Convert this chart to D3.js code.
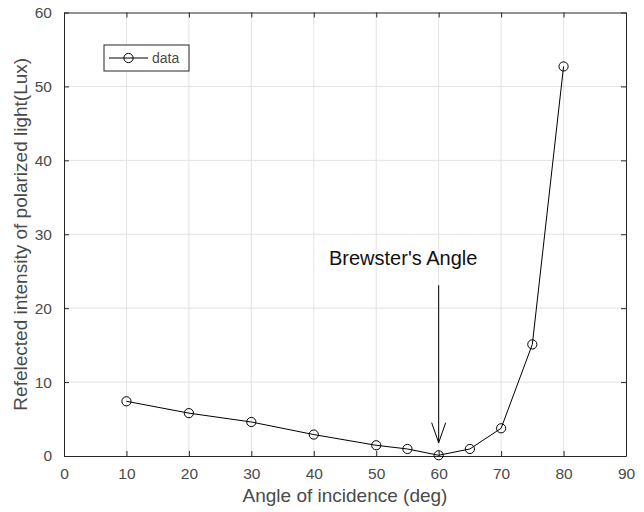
<!DOCTYPE html>
<html>
<head>
<meta charset="utf-8">
<script src="https://cdn.jsdelivr.net/npm/d3@7"></script>
<style>
  body { margin: 0; background: #fff; }
  svg { display: block; font-family: "Liberation Sans", Arial, sans-serif; }
</style>
</head>
<body>
<div id="chart"></div>
<script>
// measured data
var angles = [10, 20, 30, 40, 50, 55, 60, 65, 70, 75, 80]
var intensity = [7.4, 5.8, 4.6, 2.9, 1.45, 0.95, 0.1, 0.95, 3.75, 15.1, 52.7]
var xTicks = [0, 10, 20, 30, 40, 50, 60, 70, 80, 90]
var yTicks = [0, 10, 20, 30, 40, 50, 60]
var arrowFrom = [60, 23.1]
var arrowTo = [60, 1.8]

var width = 644, height = 512
var margin = { left: 64, right: 18, top: 12.5, bottom: 56 }

var svg = d3.select("#chart").append("svg")
    .attr("width", width)
    .attr("height", height)

var x = d3.scaleLinear().domain([0, 90]).range([margin.left, width - margin.right])
var y = d3.scaleLinear().domain([0, 60]).range([height - margin.bottom, margin.top])

var axisColor = "#262626"
var textColor = "#4a4a4a"

// grid
svg.append("g").selectAll("line").data(xTicks.slice(1, -1)).enter().append("line")
    .attr("x1", d => x(d)).attr("x2", d => x(d))
    .attr("y1", y(0)).attr("y2", y(60))
    .attr("stroke", "#e3e3e3").attr("stroke-width", 1)
svg.append("g").selectAll("line").data(yTicks.slice(1, -1)).enter().append("line")
    .attr("y1", d => y(d)).attr("y2", d => y(d))
    .attr("x1", x(0)).attr("x2", x(90))
    .attr("stroke", "#e3e3e3").attr("stroke-width", 1)

// axes (ticks inside)
function styleAxis(g) {
    g.select(".domain").attr("stroke", axisColor)
    g.selectAll(".tick line").attr("stroke", axisColor)
    g.selectAll(".tick text").attr("fill", textColor)
        .style("font-size", "15.5px")
        .style("font-family", "'Liberation Sans', Arial, sans-serif")
}

svg.append("g")
    .attr("transform", "translate(0," + y(0) + ")")
    .call(d3.axisBottom(x).tickValues(xTicks).tickSizeInner(-5).tickSizeOuter(0).tickPadding(12))
    .call(styleAxis)

svg.append("g")
    .attr("transform", "translate(0," + y(60) + ")")
    .call(d3.axisTop(x).tickValues(xTicks).tickSizeInner(-5).tickSizeOuter(0).tickFormat(""))
    .call(styleAxis)

svg.append("g")
    .attr("transform", "translate(" + x(0) + ",0)")
    .call(d3.axisLeft(y).tickValues(yTicks).tickSizeInner(-5).tickSizeOuter(0).tickPadding(12))
    .call(styleAxis)

svg.append("g")
    .attr("transform", "translate(" + x(90) + ",0)")
    .call(d3.axisRight(y).tickValues(yTicks).tickSizeInner(-5).tickSizeOuter(0).tickFormat(""))
    .call(styleAxis)

// data line + markers
var pts = angles.map((a, i) => [a, intensity[i]])
var line = d3.line().x(d => x(d[0])).y(d => y(d[1]))

svg.append("path")
    .datum(pts)
    .attr("d", line)
    .attr("fill", "none")
    .attr("stroke", "#000")
    .attr("stroke-width", 1)

svg.append("g").selectAll("circle").data(pts).enter().append("circle")
    .attr("cx", d => x(d[0]))
    .attr("cy", d => y(d[1]))
    .attr("r", 4.6)
    .attr("fill", "none")
    .attr("stroke", "#000")
    .attr("stroke-width", 1)

// annotation arrow
var ax1 = x(arrowFrom[0]), ay1 = y(arrowFrom[1])
var ax2 = x(arrowTo[0]), ay2 = y(arrowTo[1])
svg.append("line")
    .attr("x1", ax1).attr("y1", ay1).attr("x2", ax2).attr("y2", ay2)
    .attr("stroke", "#000").attr("stroke-width", 1)
svg.append("path")
    .attr("d", "M" + (ax2 - 7) + "," + (ay2 - 20) + "L" + ax2 + "," + ay2 + "L" + (ax2 + 7) + "," + (ay2 - 20))
    .attr("fill", "none").attr("stroke", "#000").attr("stroke-width", 1)

svg.append("text")
    .attr("x", 329).attr("y", 265)
    .attr("fill", "#111")
    .style("font-size", "20px")
    .text("Brewster's Angle")

// axis labels
svg.append("text")
    .attr("x", (x(0) + x(90)) / 2).attr("y", 502)
    .attr("text-anchor", "middle")
    .attr("fill", textColor)
    .style("font-size", "19px")
    .text("Angle of incidence (deg)")

svg.append("text")
    .attr("transform", "translate(27," + ((y(0) + y(60)) / 2) + ") rotate(-90)")
    .attr("text-anchor", "middle")
    .attr("fill", textColor)
    .style("font-size", "19px")
    .text("Refelected intensity of polarized light(Lux)")

// legend
var lg = svg.append("g").attr("transform", "translate(104,45)")
lg.append("rect")
    .attr("width", 85).attr("height", 26)
    .attr("fill", "#fff").attr("stroke", axisColor).attr("stroke-width", 1)
lg.append("line")
    .attr("x1", 5).attr("x2", 44).attr("y1", 13).attr("y2", 13)
    .attr("stroke", "#000")
lg.append("circle")
    .attr("cx", 24.5).attr("cy", 13).attr("r", 4.6)
    .attr("fill", "none").attr("stroke", "#000")
lg.append("text")
    .attr("x", 48).attr("y", 18)
    .attr("fill", textColor)
    .style("font-size", "14px")
    .text("data")
</script>
</body>
</html>
